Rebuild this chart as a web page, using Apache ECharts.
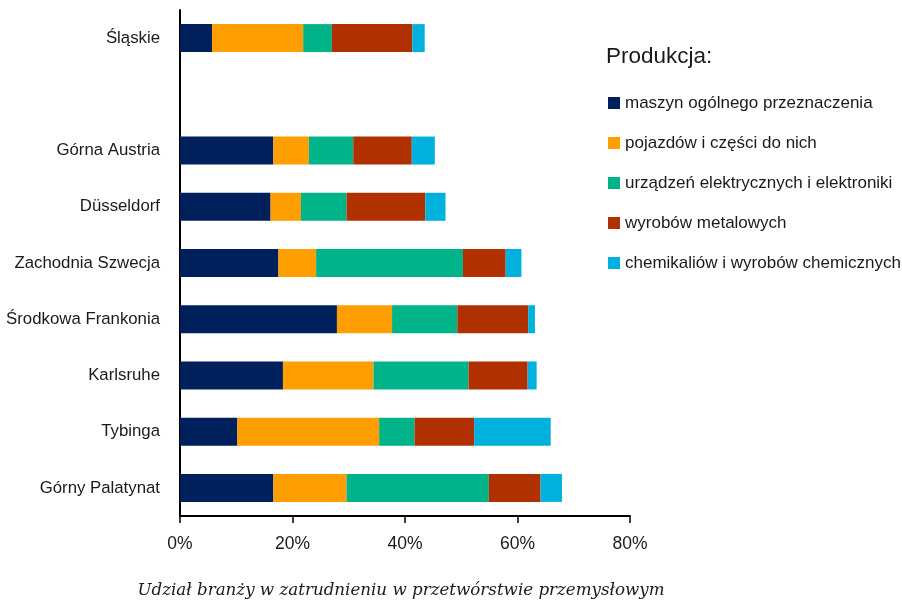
<!DOCTYPE html>
<html>
<head>
<meta charset="utf-8">
<script src="https://cdn.jsdelivr.net/npm/echarts@6/dist/echarts.min.js"></script>
<style>
html,body{margin:0;padding:0;background:#fff;}
#chart{width:902px;height:602px;}
</style>
</head>
<body>
<div id="chart"></div>
<script>
const categories = ["Górny Palatynat","Tybinga","Karlsruhe","Środkowa Frankonia","Zachodnia Szwecja","Düsseldorf","Górna Austria","","Śląskie"];
const seriesNames = ["maszyn ogólnego przeznaczenia","pojazdów i części do nich","urządzeń elektrycznych i elektroniki","wyrobów metalowych","chemikaliów i wyrobów chemicznych"];
const maszyn    = [16.6, 10.2, 18.3, 27.9, 17.5, 16.1, 16.6, null, 5.7];
const pojazdow  = [13.0, 25.2, 16.1,  9.8,  6.7,  5.4,  6.3, null, 16.2];
const urzadzen  = [25.3,  6.3, 16.9, 11.6, 26.1,  8.1,  7.9, null, 5.1];
const wyrobow   = [ 9.2, 10.6, 10.5, 12.6,  7.6, 14.0, 10.4, null, 14.3];
const chemikal  = [ 3.8, 13.6,  1.6,  1.2,  2.8,  3.6,  4.1, null, 2.2];
const xTicks = [0, 20, 40, 60, 80];
const colors = ["#00205B","#FF9E00","#00B388","#B03000","#00B1DD"];
const seriesData = [maszyn, pojazdow, urzadzen, wyrobow, chemikal];

const FONT = "'Liberation Sans', Arial, sans-serif";
const chart = echarts.init(document.getElementById('chart'), null, {renderer:'canvas'});
chart.setOption({
  animation: false,
  backgroundColor: '#ffffff',
  title: {
    text: 'Produkcja:',
    left: 606, top: 45, padding: 0,
    textStyle: {fontFamily: FONT, fontSize: 22.5, fontWeight: 'normal', color: '#1a1a1a'}
  },
  legend: {
    orient: 'vertical',
    left: 608, top: 93, padding: 0,
    itemWidth: 12, itemHeight: 12, itemGap: 20,
    icon: 'rect',
    textStyle: {fontFamily: FONT, fontSize: 17, lineHeight: 20, color: '#1a1a1a', padding: [0,0,0,0]},
    data: seriesNames
  },
  grid: {left: 180, right: 272, top: 10, bottom: 86, containLabel: false, outerBoundsMode: 'none'},
  xAxis: {
    type: 'value', min: xTicks[0], max: xTicks[xTicks.length-1], interval: 20,
    axisLine: {show: true, lineStyle: {color: '#000', width: 2}},
    axisTick: {show: true, length: 7, lineStyle: {color: '#000', width: 1.5}},
    splitLine: {show: false},
    axisLabel: {formatter: '{value}%', margin: 19, fontFamily: FONT, fontSize: 17.5, color: '#1a1a1a'},
    name: 'Udział branży w zatrudnieniu w przetwórstwie przemysłowym',
    nameLocation: 'middle', nameGap: 66,
    nameTextStyle: {fontFamily: "'DejaVu Serif', serif", fontStyle: 'italic', fontSize: 16.7, color: '#1a1a1a', padding: [0,8,0,0]}
  },
  yAxis: {
    type: 'category', data: categories,
    axisLine: {show: true, lineStyle: {color: '#000', width: 2}},
    axisTick: {show: false},
    axisLabel: {margin: 20, fontFamily: FONT, fontSize: 16.8, color: '#1a1a1a'}
  },
  series: seriesNames.map((n, i) => ({
    name: n, type: 'bar', stack: 'total', barWidth: 28,
    itemStyle: {color: colors[i]},
    data: seriesData[i]
  }))
});
</script>
</body>
</html>
